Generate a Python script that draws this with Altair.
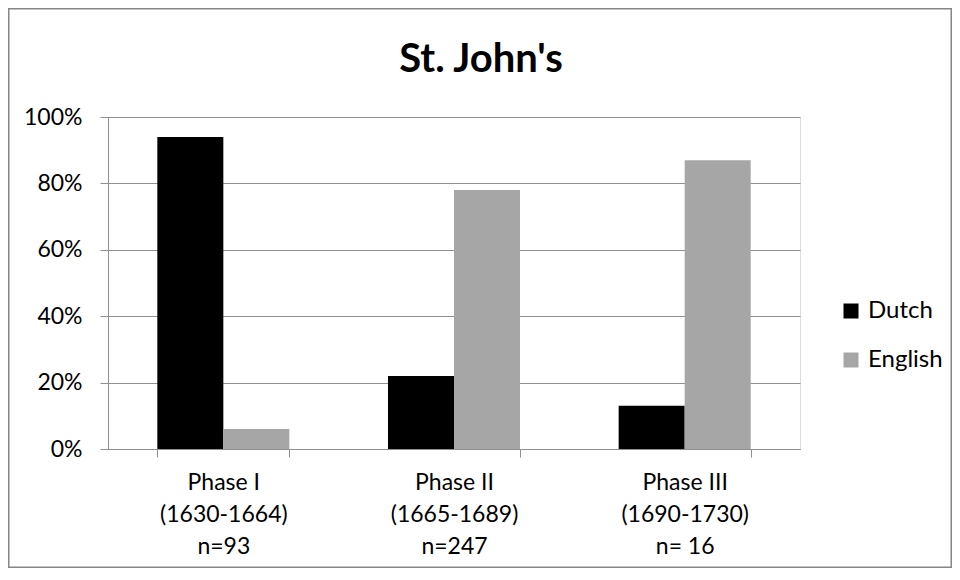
import altair as alt
import pandas as pd

# ---- data ----
phases = ["Phase I", "Phase II", "Phase III"]
periods = ["(1630-1664)", "(1665-1689)", "(1690-1730)"]
samples = ["n=93", "n=247", "n= 16"]
series = ["Dutch", "English"]
dutch = [94, 22, 13]
english = [6, 78, 87]
colors = ["#000000", "#a6a6a6"]
title_text = "St. John's"

cats = [f"{p}|{d}|{n}" for p, d, n in zip(phases, periods, samples)]
rows = []
for c, d, e in zip(cats, dutch, english):
    rows.append({"cat": c, "lang": "Dutch", "value": d})
    rows.append({"cat": c, "lang": "English", "value": e})
df = pd.DataFrame(rows)

FONT = "Lato"
GRID = "#8f8f8f"

PAD_L, PAD_T, PAD_R, PAD_B = 100, 109, 152, 119
W, H = 692, 332

bars = alt.Chart(df).mark_bar(strokeWidth=0).encode(
    x=alt.X(
        "cat:N",
        sort=cats,
        title=None,
        scale=alt.Scale(paddingInner=0.4276, paddingOuter=0.2138),
        axis=alt.Axis(
            labelExpr="split(datum.label, '|')",
            labelAngle=0,
            labelFont=FONT,
            labelFontSize=23,
            labelColor="#000000",
            labelLineHeight=32,
            labelPadding=14,
            tickBand="extent",
            tickSize=8,
            tickColor=GRID,
            domainColor=GRID,
            grid=False,
        ),
    ),
    xOffset=alt.XOffset("lang:N", sort=series,
                        scale=alt.Scale(paddingInner=0, paddingOuter=0)),
    y=alt.Y(
        "value:Q",
        title=None,
        scale=alt.Scale(domain=[0, 100], nice=False),
        axis=alt.Axis(
            values=[0, 20, 40, 60, 80, 100],
            labelExpr="datum.value + '%'",
            labelFont=FONT,
            labelFontSize=23,
            labelColor="#000000",
            labelPadding=18,
            tickSize=8,
            tickColor=GRID,
            domainColor=GRID,
            gridColor=GRID,
            gridWidth=1,
        ),
    ),
    color=alt.Color(
        "lang:N",
        sort=series,
        scale=alt.Scale(domain=series, range=colors),
        legend=alt.Legend(
            title=None,
            orient="none",
            legendX=731,
            legendY=182,
            padding=0,
            symbolType="square",
            symbolSize=225,
            symbolStrokeWidth=0,
            labelFont=FONT,
            labelFontSize=24,
            labelColor="#000000",
            labelOffset=5,
            rowPadding=25,
        ),
    ),
)

title = alt.Chart(pd.DataFrame({"t": [title_text]})).mark_text(
    font=FONT, fontSize=40, fontWeight="bold", color="#000000",
    align="center", baseline="alphabetic",
).encode(
    text="t:N",
    x=alt.value(373),
    y=alt.value(-45),
)

border = alt.Chart(pd.DataFrame({"a": [0]})).mark_rect(
    fillOpacity=0, stroke="#868686", strokeWidth=1.5
).encode(
    x=alt.value(-PAD_L + 0.75),
    x2=alt.value(W + PAD_R - 0.75),
    y=alt.value(-PAD_T + 0.75),
    y2=alt.value(H + PAD_B - 0.75),
)

chart = alt.layer(bars, title, border).properties(
    width=W,
    height=H,
    autosize=alt.AutoSizeParams(type="none"),
    padding={"left": PAD_L, "top": PAD_T, "right": PAD_R, "bottom": PAD_B},
).configure_view(strokeWidth=0).configure(background="white")

chart.save("out.html", embed_options={"renderer": "svg", "actions": False})
